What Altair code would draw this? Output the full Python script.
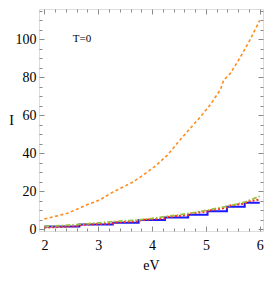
import altair as alt
import pandas as pd

# ---- data ----
blue_ev = [2.0, 2.65, 3.27, 3.75, 4.24, 4.67, 5.03, 5.39, 5.72, 6.0]
blue_i = [1.6, 2.6, 3.6, 5.0, 6.3, 7.8, 9.6, 12.0, 14.0, 14.0]

orange_ev = [2.0, 2.43, 2.79, 3.02, 3.26, 3.62, 3.80, 4.04, 4.27, 4.53,
             4.95, 5.09, 5.27, 5.33, 5.45, 5.63, 5.81, 6.0]
orange_i = [5.5, 8.5, 13.0, 15.4, 19.5, 24.6, 27.9, 32.9, 38.7, 47.5,
            61.0, 66.0, 73.6, 78.6, 82.0, 90.2, 99.3, 110.0]

red_ev = [2.0, 2.3, 2.65, 2.7, 3.0, 3.27, 3.3, 3.75, 3.8, 4.24, 4.3,
          4.67, 4.7, 5.03, 5.1, 5.39, 5.45, 5.72, 5.8, 6.0]
red_i = [1.0, 1.3, 1.8, 2.5, 2.8, 3.2, 3.7, 4.3, 5.0, 5.8, 6.6,
         7.6, 8.3, 9.5, 10.2, 11.5, 12.6, 13.6, 14.8, 15.8]

green_ev = [2.0, 2.3, 2.6, 3.0, 3.3, 3.75, 4.0, 4.3, 4.7, 5.0, 5.4, 5.7, 6.0]
green_i = [1.6, 2.0, 2.6, 3.5, 4.2, 5.0, 5.8, 7.0, 8.5, 10.0, 12.3, 14.2, 17.5]

x_major = [2, 3, 4, 5, 6]
x_minor = [round(2 + 0.2 * k, 1) for k in range(21) if k % 5 != 0]
y_major = [0, 20, 40, 60, 80, 100]
y_minor = [v for v in range(5, 116, 5) if v % 20 != 0]

label_text = ["T=0"]
label_ev = [2.7]
label_i = [100]

X_DOMAIN = [1.9, 6.06]
Y_DOMAIN = [-0.8, 116]

FONT = "Liberation Serif"
FRAME = "#8a8a8a"

W, H = 224, 222

df_blue = pd.DataFrame({"eV": blue_ev, "I": blue_i})
df_orange = pd.DataFrame({"eV": orange_ev, "I": orange_i})
df_red = pd.DataFrame({"eV": red_ev, "I": red_i})
df_green = pd.DataFrame({"eV": green_ev, "I": green_i})
df_label = pd.DataFrame({"eV": label_ev, "I": label_i, "t": label_text})

xs = alt.Scale(domain=X_DOMAIN, nice=False, zero=False)
ys = alt.Scale(domain=Y_DOMAIN, nice=False, zero=False)


def axis(orient, values, size, labels=False, title=None, **kw):
    # inward ticks: negative tick length given as an expression
    args = dict(
        orient=orient, values=values, domain=False, grid=False,
        tickSize={"expr": str(-size)}, tickColor=FRAME, tickWidth=1,
        labels=labels,
    )
    if labels:
        args.update(labelFont=FONT, labelFontSize=14, labelColor="black")
    else:
        args.update(minExtent=0, maxExtent=0)
    if title is not None:
        args.update(title=title, titleFont=FONT, titleFontSize=14,
                    titleFontWeight="normal", titleColor="black")
    else:
        args.update(title=None)
    args.update(kw)
    return alt.Axis(**args)


blue = alt.Chart(df_blue).mark_line(
    interpolate="step-after", color="#1a1aff", strokeWidth=2
).encode(
    x=alt.X("eV:Q", scale=xs,
            axis=axis("bottom", x_major, 5, labels=True, title="eV",
                      labelPadding=12, titlePadding=6)),
    y=alt.Y("I:Q", scale=ys,
            axis=axis("left", y_major, 5, labels=True, title="I",
                      labelPadding=8, titleAngle=0, titleAlign="center",
                      titleBaseline="middle", titleX=-28, titleY=H / 2)),
)

orange = alt.Chart(df_orange).mark_line(
    color="#ff8c1a", strokeWidth=1.6, strokeDash=[3, 2.5]
).encode(
    x=alt.X("eV:Q", scale=xs, axis=axis("top", x_major, 5)),
    y=alt.Y("I:Q", scale=ys, axis=axis("right", y_major, 5)),
)

red = alt.Chart(df_red).mark_line(
    color="#ff2020", strokeWidth=2, strokeDash=[2, 2]
).encode(
    x=alt.X("eV:Q", scale=xs, axis=axis("bottom", x_minor, 3)),
    y=alt.Y("I:Q", scale=ys, axis=axis("left", y_minor, 3)),
)

green = alt.Chart(df_green).mark_line(
    color="#9cbf3f", strokeWidth=1.8, strokeDash=[5, 2, 1.5, 2]
).encode(
    x=alt.X("eV:Q", scale=xs, axis=axis("top", x_minor, 3)),
    y=alt.Y("I:Q", scale=ys, axis=axis("right", y_minor, 3)),
)

label = alt.Chart(df_label).mark_text(
    font=FONT, fontSize=11, color="black"
).encode(
    x=alt.X("eV:Q", scale=xs, axis=None),
    y=alt.Y("I:Q", scale=ys, axis=None),
    text="t:N",
)

chart = alt.layer(blue, red, green, orange, label).resolve_axis(
    x="independent", y="independent"
).properties(
    width=W, height=H, padding={"left": 0, "top": 0, "right": 0, "bottom": 0}
).configure_view(
    stroke=FRAME, strokeWidth=1
).configure(background="white")

chart.save("out.html", embed_options={"renderer": "svg", "actions": False})
